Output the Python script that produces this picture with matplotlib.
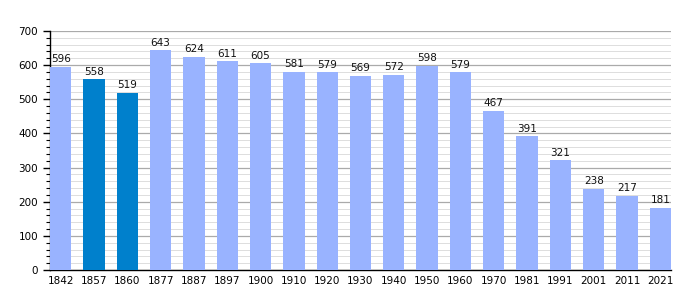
import matplotlib
matplotlib.use("Agg")
import matplotlib.pyplot as plt
import numpy as np

years = ["1842", "1857", "1860", "1877", "1887", "1897", "1900", "1910", "1920", "1930",
         "1940", "1950", "1960", "1970", "1981", "1991", "2001", "2011", "2021"]
population = [596, 558, 519, 643, 624, 611, 605, 581, 579, 569,
              572, 598, 579, 467, 391, 321, 238, 217, 181]
highlight = ["1857", "1860"]

light = "#99b3ff"
dark = "#0080cc"

fig = plt.figure(figsize=(7, 3), dpi=100)
ax = fig.add_axes([0.0714, 0.1, 0.8872, 0.7967])

x = np.arange(len(years))
w = 0.64
colors = [dark if y in highlight else light for y in years]
ax.bar(x, population, width=w, color=colors, zorder=3)

for xi, v in zip(x, population):
    ax.text(xi, v + 8, str(v), ha="center", va="bottom", fontsize=7.5, color="#111111", zorder=4)

ax.set_xlim(-w / 2, len(years) - 1 + w / 2)
ax.set_ylim(0, 700)
ax.set_xticks(x)
ax.set_xticklabels(years, fontsize=7.5)
ax.set_yticks(np.arange(0, 701, 100))
ax.set_yticks(np.arange(0, 701, 20), minor=True)
ax.tick_params(axis="y", labelsize=7.5, length=5, width=1)
ax.tick_params(axis="y", which="minor", length=3, width=0.8)
ax.tick_params(axis="x", length=0, pad=4)

ax.grid(axis="y", which="major", color="#aaaaaa", linewidth=0.9, zorder=0)
ax.grid(axis="y", which="minor", color="#dddddd", linewidth=0.7, zorder=0)

for s in ["top", "right"]:
    ax.spines[s].set_visible(False)
ax.spines["left"].set_linewidth(1)
ax.spines["bottom"].set_linewidth(1)

fig.savefig("out.png", dpi=100)
